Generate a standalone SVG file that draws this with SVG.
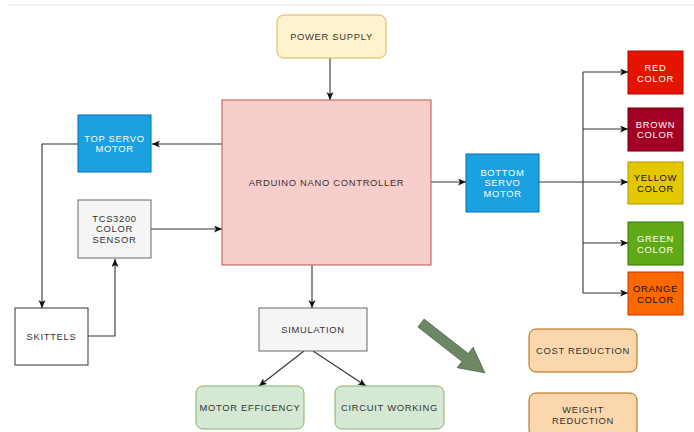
<svg xmlns="http://www.w3.org/2000/svg" width="694" height="432" viewBox="0 0 694 432">
<defs>
<marker id="arr" markerUnits="userSpaceOnUse" markerWidth="9" markerHeight="8" refX="8" refY="3.5" orient="auto">
<path d="M0,0 L8,3.5 L0,7 L2,3.5 z" fill="#111"/>
</marker>
<style>
text{font-family:"Liberation Sans",Arial,sans-serif;font-size:9.4px;letter-spacing:0.7px;text-anchor:middle;fill:#333}
.w{fill:#fff}
.k{fill:#111}
.c{fill:none;stroke:#333;stroke-width:1.1;marker-end:url(#arr)}
.l{fill:none;stroke:#333;stroke-width:1.1}
</style>
</defs>
<rect x="8" y="4" width="686" height="2" fill="#f3f3f3"/>
<g id="connectors">
<path class="c" d="M330,58 V100"/>
<path class="c" d="M222,144 H152"/>
<path class="c" d="M78,144 H42 V308"/>
<path class="c" d="M88,336 H115 V259"/>
<path class="c" d="M151,229 H222"/>
<path class="c" d="M431,182 H466"/>
<path class="c" d="M539,182 H628"/>
<path class="l" d="M583,72 V293"/>
<path class="c" d="M583,72 H628"/>
<path class="c" d="M583,129 H628"/>
<path class="c" d="M583,243 H628"/>
<path class="c" d="M583,293 H628"/>
<path class="c" d="M312,265 V308"/>
<path class="c" d="M304,351 L259,386"/>
<path class="c" d="M313,351 L366,386"/>
</g>
<g id="power"><rect x="277" y="15" width="109" height="43" rx="7" fill="#fff2cc" stroke="#d6b656"/><text x="331.5" y="40">POWER SUPPLY</text></g>
<g id="arduino"><rect x="222" y="100" width="209" height="165" fill="#f8cecc" stroke="#b85450"/><text x="326.5" y="186">ARDUINO NANO CONTROLLER</text></g>
<g id="topservo"><rect x="78" y="115" width="73" height="57" fill="#1ba1e2" stroke="#006eaf"/><text class="w" x="114.5" y="141.5">TOP SERVO</text><text class="w" x="114.5" y="152">MOTOR</text></g>
<g id="sensor"><rect x="78" y="200" width="73" height="58" fill="#f5f5f5" stroke="#666"/><text x="114.5" y="221.5">TCS3200</text><text x="114.5" y="232">COLOR</text><text x="114.5" y="242.5">SENSOR</text></g>
<g id="skittels"><rect x="15" y="308" width="73" height="57" fill="#fff" stroke="#333"/><text x="51.5" y="339.5">SKITTELS</text></g>
<g id="simulation"><rect x="259" y="308" width="108" height="43" fill="#f5f5f5" stroke="#666"/><text x="313" y="332.5">SIMULATION</text></g>
<g id="motoreff"><rect x="196" y="386" width="108" height="43" rx="7" fill="#d5e8d4" stroke="#82b366"/><text x="250" y="410.5">MOTOR EFFICENCY</text></g>
<g id="circuit"><rect x="335" y="386" width="109" height="43" rx="7" fill="#d5e8d4" stroke="#82b366"/><text x="389.5" y="410.5">CIRCUIT WORKING</text></g>
<g id="bottomservo"><rect x="466" y="154" width="73" height="58" fill="#1ba1e2" stroke="#006eaf"/><text class="w" x="502.5" y="175.5">BOTTOM</text><text class="w" x="502.5" y="186">SERVO</text><text class="w" x="502.5" y="196.5">MOTOR</text></g>
<g id="red"><rect x="628" y="51" width="55" height="43" fill="#e51400" stroke="#b20000"/><text class="w" x="655.5" y="70.5">RED</text><text class="w" x="655.5" y="81.5">COLOR</text></g>
<g id="brown"><rect x="628" y="108" width="55" height="43" fill="#a20025" stroke="#6f0000"/><text class="w" x="655.5" y="127.5">BROWN</text><text class="w" x="655.5" y="138">COLOR</text></g>
<g id="yellow"><rect x="628" y="162" width="55" height="42" fill="#e3c800" stroke="#b09500"/><text class="k" x="655.5" y="181">YELLOW</text><text class="k" x="655.5" y="191.5">COLOR</text></g>
<g id="green"><rect x="628" y="222" width="55" height="43" fill="#60a917" stroke="#2d7600"/><text class="w" x="655.5" y="241.5">GREEN</text><text class="w" x="655.5" y="252.5">COLOR</text></g>
<g id="orange"><rect x="628" y="272" width="55" height="43" fill="#fa6800" stroke="#c73500"/><text class="k" x="655.5" y="291.5">ORANGE</text><text class="k" x="655.5" y="302.5">COLOR</text></g>
<g id="bigarrow"><polygon points="0,-5 56,-5 56,-13 81,0 56,13 56,5 0,5" transform="translate(421,323) rotate(38)" fill="#6d8764" stroke="#3a5431" stroke-width="0.6"/></g>
<g id="cost"><rect x="529" y="329" width="108" height="43" rx="7" fill="#fad7ac" stroke="#b46504"/><text x="583" y="354">COST REDUCTION</text></g>
<g id="weight"><rect x="529" y="393" width="108" height="44" rx="7" fill="#fad7ac" stroke="#b46504"/><text x="583" y="412.5">WEIGHT</text><text x="583" y="423.5">REDUCTION</text></g>
</svg>
